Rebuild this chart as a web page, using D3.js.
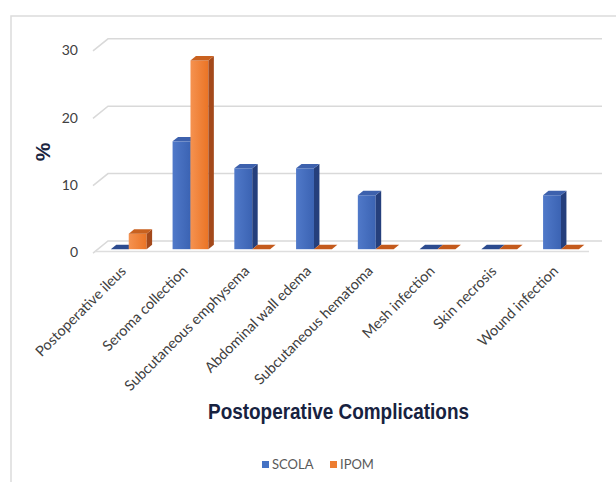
<!DOCTYPE html>
<html>
<head>
<meta charset="utf-8">
<script src="https://cdn.jsdelivr.net/npm/d3@7"></script>
<style>
  body { margin: 0; background: #fff; }
  svg { display: block; }
</style>
</head>
<body>
<svg id="chart" width="616" height="482"></svg>
<script>
// Complication rates (%) per group
const categories = [
  "Postoperative ileus", "Seroma collection", "Subcutaneous emphysema",
  "Abdominal wall edema", "Subcutaneous hematoma", "Mesh infection",
  "Skin necrosis", "Wound infection"
];
const scolaValues = [0, 16, 12, 12, 8, 0, 0, 8];
const ipomValues  = [2.3, 28, 0, 0, 0, 0, 0, 0];
const seriesNames = ["SCOLA", "IPOM"];
const yTicks = [0, 10, 20, 30];

const series = [
  { name: seriesNames[0], values: scolaValues,
    front: ["#5079c9", "#3b63b3"], side: "#253f7c", top: "#3d61ad", flat: "#2c4b8f", key: "#4472c4" },
  { name: seriesNames[1], values: ipomValues,
    front: ["#f59250", "#eb7425"], side: "#a4491b", top: "#c9611f", flat: "#c45a1c", key: "#ed7d31" }
];

const svg = d3.select("#chart");

// 3D projection: the back wall sits DX right and DY up of the front plane
const DX = 13, DY = 10.5;
const z0 = 0.22, dz = 0.42;          // bar depth position / thickness (fraction of floor depth)
const x0 = 95, x1 = 589;

const x = d3.scaleBand().domain(categories).range([x0, x1])
  .paddingInner(0.42).paddingOuter(0.21);
const xs = d3.scaleBand().domain(seriesNames).range([0, x.bandwidth()]);
const y = d3.scaleLinear().domain([0, 30]).range([251.5, 49.3]);

// gradients for front faces
const defs = svg.append("defs");
series.forEach((s, i) => {
  const g = defs.append("linearGradient").attr("id", "g" + i)
    .attr("x1", 0).attr("x2", 1).attr("y1", 0).attr("y2", 0);
  g.append("stop").attr("offset", 0).attr("stop-color", s.front[0]);
  g.append("stop").attr("offset", 1).attr("stop-color", s.front[1]);
});

// chart frame
svg.append("rect").attr("x", 11).attr("y", 16).attr("width", 640).attr("height", 500)
  .attr("fill", "none").attr("stroke", "#dcdcdc").attr("stroke-width", 1.5);

// gridlines on back wall with side-wall segment
const grid = svg.append("g").attr("stroke", "#d9d9d9").attr("stroke-width", 1.5).attr("fill", "none");
yTicks.forEach(v => {
  grid.append("path").attr("d",
    `M${x0 - 2},${y(v) + 1.6} L${x0 + DX},${y(v) - DY} L${x1 + DX},${y(v) - DY}`);
});
// floor front edge
grid.append("path").attr("d", `M${x0},${y(0)} L${x1},${y(0)}`).attr("stroke", "#dedede");

// y tick labels
svg.append("g").selectAll("text").data(yTicks).join("text")
  .attr("x", 78).attr("y", d => y(d) + 1).attr("dy", "0.35em")
  .attr("text-anchor", "end")
  .attr("font-family", "Lato, sans-serif").attr("font-size", 14)
  .attr("fill", "#404040").text(d => d);

// y axis title
svg.append("text").attr("transform", "translate(50,152) rotate(-90)")
  .attr("text-anchor", "middle")
  .attr("font-family", "'Liberation Sans', Arial, sans-serif").attr("font-weight", "bold")
  .attr("font-size", 21).attr("fill", "#1b2540").text("%");

// bars
const ox = z0 * DX, oy = z0 * DY, ddx = dz * DX, ddy = dz * DY;
const bars = svg.append("g");
categories.forEach((c, ci) => {
  series.forEach((s, si) => {
    const v = s.values[ci];
    const bx = x(c) + xs(s.name) + ox;
    const w = xs.bandwidth();
    const yb = y(0) - oy, yt = y(v) - oy;
    const g = bars.append("g");
    if (v > 0) {
      g.append("rect").attr("x", bx).attr("y", yt).attr("width", w).attr("height", yb - yt)
        .attr("fill", `url(#g${si})`);
      g.append("path").attr("d",
        `M${bx + w},${yt} L${bx + w + ddx},${yt - ddy} L${bx + w + ddx},${yb - ddy} L${bx + w},${yb} Z`)
        .attr("fill", s.side);
      g.append("path").attr("d",
        `M${bx},${yt} L${bx + w},${yt} L${bx + w + ddx},${yt - ddy} L${bx + ddx},${yt - ddy} Z`)
        .attr("fill", s.top);
    } else {
      g.append("path").attr("d",
        `M${bx},${yb} L${bx + w},${yb} L${bx + w + ddx},${yb - ddy} L${bx + ddx},${yb - ddy} Z`)
        .attr("fill", s.flat);
    }
  });
});

// category labels
svg.append("g").selectAll("text").data(categories).join("text")
  .attr("transform", d => `translate(${x(d) + x.bandwidth() / 2 + 1},${272}) rotate(-45)`)
  .attr("text-anchor", "end")
  .attr("font-family", "Lato, sans-serif").attr("font-size", 14.5)
  .attr("fill", "#404040").text(d => d);

// x axis title (condensed bold)
svg.append("text").attr("x", 338.5).attr("y", 419)
  .attr("text-anchor", "middle")
  .attr("font-family", "'Liberation Sans', Arial, sans-serif")
  .attr("font-weight", "bold").attr("font-size", 22)
  .attr("textLength", 261).attr("lengthAdjust", "spacingAndGlyphs")
  .attr("fill", "#172240").text("Postoperative Complications");

// legend
const legend = svg.append("g").attr("font-family", "Lato, sans-serif").attr("font-size", 13).attr("fill", "#595959");
const legendX = [262, 330];
series.forEach((s, i) => {
  legend.append("rect").attr("x", legendX[i]).attr("y", 461).attr("width", 7).attr("height", 7).attr("fill", s.key);
  legend.append("text").attr("x", legendX[i] + 10).attr("y", 468.5).text(s.name);
});
</script>
</body>
</html>
